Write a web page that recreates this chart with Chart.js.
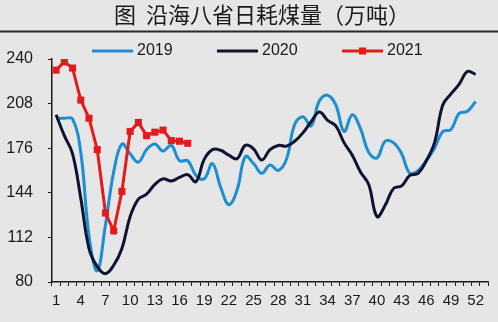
<!DOCTYPE html>
<html>
<head>
<meta charset="utf-8">
<script src="https://cdn.jsdelivr.net/npm/chart.js@4"></script>
<style>
  html, body { margin: 0; padding: 0; background: #e6e6e6; overflow: hidden; }
  canvas { display: block; }
</style>
</head>
<body>
<canvas id="chart" width="498" height="322"></canvas>
<script>
const weeks = ["1","2","3","4","5","6","7","8","9","10","11","12","13","14","15","16","17","18","19","20",
  "21","22","23","24","25","26","27","28","29","30","31","32","33","34","35","36","37","38","39","40",
  "41","42","43","44","45","46","47","48","49","50","51","52","53"];
const xTickLabels = ["1","4","7","10","13","16","19","22","25","28","31","34","37","40","43","46","49","52"];
const yTicks = [80, 112, 144, 176, 208, 240];
const seriesNames = ["2019", "2020", "2021"];

// 沿海八省日耗煤量, 万吨, by week
const coal2019 = [197.5, 197.5, 197, 173, 113, 88, 121, 159, 179, 172, 166, 175, 179, 174, 178, 167, 167, 156.5, 154, 165,
  148, 135.5, 146, 170, 165, 158, 164, 160, 168, 193, 198.5, 192, 210, 214, 207, 188, 200, 190, 173, 169,
  181, 180, 172, 158, 160, 167, 176, 188, 189.5, 201, 202.5, 209.5];
const coal2020 = [200, 185, 172, 140, 104, 91, 86, 92, 104, 127, 139.5, 143, 150, 154, 152.5, 155, 157, 152, 168, 175,
  174.5, 171, 168.5, 178, 175.5, 167.5, 175, 178, 177.5, 181, 187, 195, 202, 196, 192, 180, 171, 159, 150, 127,
  135, 147, 149, 156.5, 158, 167, 180, 207, 215, 222, 231, 229];
const coal2021 = [232, 238, 233.5, 210.5, 197.5, 175, 129.5, 116.7, 145, 188, 194.5, 185, 187.5, 189, 181.5, 181, 179.5];

const BLUE = "#1c8fd3";
const NAVY = "#0d1330";
const RED = "#e31b1b";
const INK = "#1a1a1a";
const NUM_FONT = "'Liberation Sans', Arial, sans-serif";

// background, title + rule under it, and the line-style legend
const frame = {
  id: "frame",
  beforeDraw(chart) {
    const ctx = chart.ctx;
    ctx.save();
    ctx.fillStyle = "#e6e6e6";
    ctx.fillRect(0, 0, chart.width, chart.height);
    ctx.fillStyle = INK;
    ctx.font = "22px 'Noto Sans CJK SC'";
    ctx.textAlign = "center";
    ctx.textBaseline = "middle";
    ctx.fillText("图  沿海八省日耗煤量（万吨）", 262, 15);
    ctx.strokeStyle = "#2a2a2a";
    ctx.lineWidth = 2;
    ctx.beginPath();
    ctx.moveTo(0, 31.5);
    ctx.lineTo(chart.width, 31.5);
    ctx.stroke();
    ctx.restore();
  },
  afterDraw(chart) {
    const ctx = chart.ctx;
    const y = 51;
    const starts = [92, 217, 342];
    chart.data.datasets.forEach((ds, i) => {
      const x = starts[i];
      ctx.save();
      ctx.strokeStyle = ds.borderColor;
      ctx.lineWidth = 3;
      ctx.beginPath();
      ctx.moveTo(x, y);
      ctx.lineTo(x + 41, y);
      ctx.stroke();
      if (ds.pointStyle === "rect") {
        ctx.fillStyle = ds.borderColor;
        ctx.fillRect(x + 17, y - 3.5, 7, 7);
      }
      ctx.fillStyle = INK;
      ctx.font = "16px " + NUM_FONT;
      ctx.textBaseline = "middle";
      ctx.fillText(ds.label, x + 45, y);
      ctx.restore();
    });
  }
};

new Chart(document.getElementById("chart"), {
  type: "line",
  data: {
    labels: weeks,
    datasets: [
      { label: seriesNames[0], data: coal2019, borderColor: BLUE, borderWidth: 3, tension: 0.4, pointRadius: 0, order: 2 },
      { label: seriesNames[1], data: coal2020, borderColor: NAVY, borderWidth: 3, tension: 0.4, pointRadius: 0, order: 1 },
      { label: seriesNames[2], data: coal2021, borderColor: RED, backgroundColor: RED, borderWidth: 3, tension: 0,
        pointStyle: "rect", pointRadius: 5, pointBorderWidth: 0, order: 0 }
    ]
  },
  options: {
    responsive: false,
    animation: false,
    layout: { padding: { left: 0, right: 10, top: 59, bottom: 6 } },
    plugins: {
      legend: { display: false },
      tooltip: { enabled: false },
      title: { display: false }
    },
    scales: {
      x: {
        offset: true,
        grid: { display: true, offset: true, drawOnChartArea: false, drawTicks: true, tickLength: 4, color: INK, lineWidth: 1 },
        border: { display: true, color: INK, width: 1.5 },
        ticks: {
          autoSkip: false, maxRotation: 0, padding: 6, color: INK,
          font: { family: NUM_FONT, size: 15 },
          callback: function (v) {
            const l = this.getLabelForValue(v);
            return xTickLabels.includes(l) ? l : "";
          }
        }
      },
      y: {
        min: 80, max: 240,
        afterBuildTicks: (axis) => { axis.ticks = yTicks.map((v) => ({ value: v })); },
        afterFit: (s) => { s.width = 52; },
        grid: { drawOnChartArea: false, tickLength: 4, color: INK },
        border: { display: true, color: INK, width: 1.5 },
        ticks: { padding: 15, color: INK, font: { family: NUM_FONT, size: 16 } }
      }
    }
  },
  plugins: [frame]
});
</script>
</body>
</html>
